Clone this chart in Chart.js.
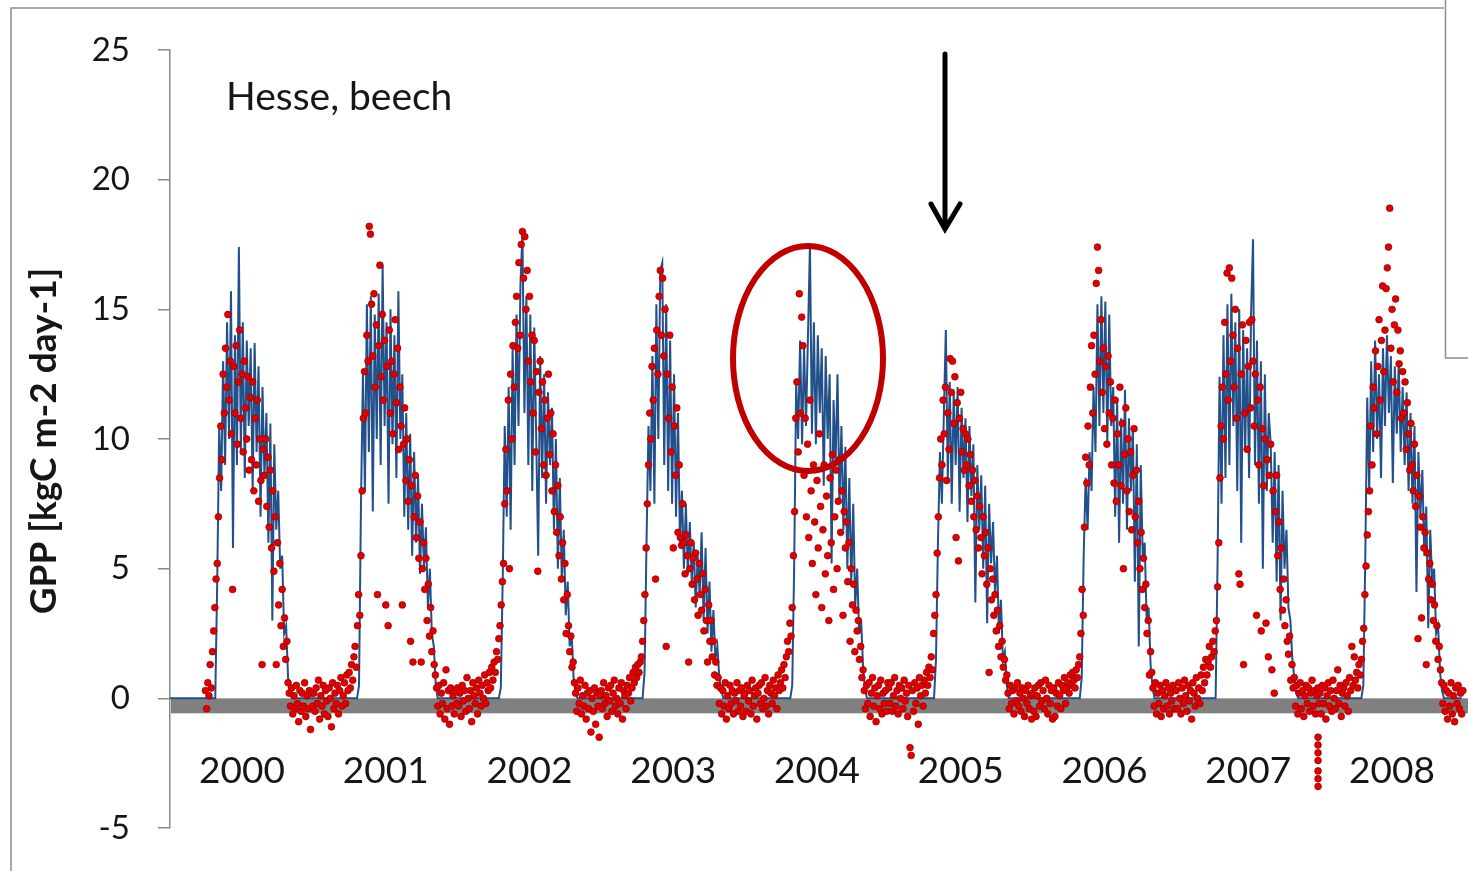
<!DOCTYPE html>
<html><head><meta charset="utf-8">
<script src="https://cdn.jsdelivr.net/npm/chart.js@4"></script>
<style>html,body{margin:0;padding:0;background:#fff;}canvas{display:block;}</style>
</head><body>
<canvas id="c" width="1468" height="871"></canvas>
<script>
// ---------------- DATA ----------------
const years = [2000,2001,2002,2003,2004,2005,2006,2007,2008];
const yearLabels = ['2000','2001','2002','2003','2004','2005','2006','2007','2008'];
const yTickValues = [-5,0,5,10,15,20,25];
const siteLabel = 'Hesse, beech';
const yTitle = 'GPP [kgC m-2 day-1]';

// modelled GPP, one value every 5 days of each year
const model2000 = [0,0,0,0,0,0,0,0,0,0, 0,0,0,0,0,0,0,0,0,0, 0,0,0,0,4.5,10.5,8.0,13.0,9.0,14.5, 10.0,15.7,5.8,14.0,9.0,17.4,9.5,14.5,8.5,13.8, 10.5,13.5,8.0,13.7,9.5,12.8,7.0,12.0,8.5,11.0, 6.0,10.6,3.0,9.8,6.5,8.0,5.0,5.5,2.5,2.8, 0.8,0.2,0,0,0,0,0,0,0,0, 0,0,0];
const model2001 = [0,0,0,0,0,0,0,0,0,0, 0,0,0,0,0,0,0,0,0,0, 0,0,0,0.5,7.5,12.5,8.0,15.2,9.5,15.5, 7.2,14.8,10.0,15.6,9.0,16.7,10.5,14.5,7.5,15.0, 9.8,14.0,8.5,15.7,10.0,12.5,7.0,11.0,6.5,10.2, 5.5,9.5,6.0,8.6,4.8,7.5,5.0,6.6,3.5,5.0, 2.5,2.0,0.5,0,0,0,0,0,0,0, 0,0,0];
const model2002 = [0,0,0,0,0,0,0,0,0,0, 0,0,0,0,0,0,0,0,0,0, 0,0,0.4,4.7,10.5,7.0,12.0,6.5,13.5,9.0, 14.8,10.5,16.0,17.9,11.0,15.5,9.0,14.8,8.0,14.3, 10.0,5.5,13.2,8.5,12.5,7.5,11.8,9.0,11.2,6.5, 10.0,5.0,8.5,4.5,6.5,3.2,4.5,2.0,2.5,0.8, 0.2,0,0,0,0,0,0,0,0,0, 0,0,0];
const model2003 = [0,0,0,0,0,0,0,0,0,0, 0,0,0,0,0,0,0,0,0,0, 0,0,1.0,6.0,10.5,8.0,13.2,7.5,15.2,10.0, 16.5,16.8,9.0,15.2,8.0,13.8,7.5,12.5,7.0,11.0, 6.0,8.0,5.0,7.5,4.8,6.8,4.5,6.0,3.5,5.5, 4.0,6.4,3.0,5.8,2.5,4.5,1.8,3.4,1.5,2.0, 0.8,0.3,0,0,0,0,0,0,0,0, 0,0,0];
const model2004 = [0,0,0,0,0,0,0,0,0,0, 0,0,0,0,0,0,0,0,0,0, 0,0,0,0,0.5,5.2,12.2,10.0,13.8,9.8, 13.5,10.5,14.0,17.5,10.2,14.5,9.8,14.0,11.0,13.5, 8.2,13.2,10.0,12.5,5.2,11.5,9.0,12.5,7.5,10.5, 6.5,9.7,5.0,8.5,4.4,7.5,3.5,5.0,2.5,3.0, 1.2,0.3,0,0,0,0,0,0,0,0, 0,0,0];
const model2005 = [0,0,0,0,0,0,0,0,0,0, 0,0,0,0,0,0,0,0,0,0, 0,0,0,0,1.5,6.0,9.5,7.5,11.0,14.2, 8.5,12.2,7.5,11.8,9.0,12.0,7.2,11.2,8.5,10.8, 6.8,10.5,7.8,9.8,3.7,9.0,6.5,8.6,5.0,8.2, 2.9,7.5,5.2,6.8,4.0,5.5,2.5,3.8,1.5,1.8, 0.5,0,0,0,0,0,0,0,0,0, 0,0,0];
const model2006 = [0,0,0,0,0,0,0,0,0,0, 0,0,0,0,0,0,0,0,0,0, 0,0,0,0,0,0.8,5.5,8.5,6.5,9.5, 8.0,12.0,9.5,15.2,10.5,15.5,11.0,15.3,9.8,14.8, 10.5,12.0,7.0,11.5,6.0,10.8,7.5,11.9,6.5,10.8, 8.0,10.5,4.5,9.8,2.0,9.0,5.5,6.0,3.0,3.5, 1.3,0.4,0,0,0,0,0,0,0,0, 0,0,0];
const model2007 = [0,0,0,0,0,0,0,0,0,0, 0,0,0,0,0,0,0,0,0,0, 0,5.3,12.4,7.5,14.0,8.5,15.2,9.0,15.6,10.5, 14.5,8.0,15.0,6.0,14.2,9.5,13.5,8.5,14.8,17.7, 9.0,13.8,7.5,13.0,5.0,12.5,8.0,11.0,9.8,6.0, 9.5,4.5,9.0,3.0,8.0,5.0,6.5,3.5,3.0,1.5, 0.8,0.2,0,0,0,0,0,0,0,0, 0,0,0];
const model2008 = [0,0,0,0,0,0,0,0,0,0, 0,0,0,0,0,0,0,0,0,0, 0,0,0.5,5.4,11.6,8.0,13.0,9.5,13.8,10.0, 12.5,8.5,13.5,10.5,14.0,11.0,13.2,8.3,12.8,10.2, 13.0,9.5,12.0,9.0,11.8,8.0,11.0,7.5,10.5,4.1, 9.5,7.0,8.8,5.5,7.4,2.7,6.5,4.5,5.0,2.5, 2.8,1.0,0.3,0,0,0,0,0,0,0, 0,0,0];

// observed GPP, one value every 3 days of each year (null = no data)
const obs2000 = [null,null,null,null,null,null,null,null,null,null, null,null,null,null,null,null,null,null,null,null, null,null,null,null,null,null,null,null,null,null,
 0.3,-0.4,0.6,0.1,1.3,0.4,1.8,2.6,3.5,4.6, 5.2,7.0,8.5,10.5,9.2,12.5,11.0,13.5,12.0,14.8, 11.5,13.0,10.2,4.2,12.8,11.0,13.6,9.8,12.2,14.2,
 10.8,12.5,9.5,13.0,11.2,10.0,12.4,8.8,11.6,9.2, 12.2,8.0,10.8,9.0,11.5,7.6,10.0,8.4,1.3,9.6, 8.6,10.0,7.4,9.3,6.6,8.8,5.8,8.0,4.9,7.0,
 1.3,6.0,3.6,5.2,2.8,4.2,2.0,3.1,1.5,2.2, 0.6,0.2,-0.3,0.4,-0.6,0.1,-0.4,0.5,-0.2,-0.9, 0.3,-0.5,0.2,-0.3,0.6,-0.7,0.1,-0.4,0.3,-1.2, 0.2,-0.3];
const obs2001 = [0.2,-0.5,0.4,-0.2,0.7,-0.8,0.1,-0.3,0.5,-0.6, 0.3,-0.1,-0.7,0.4,0.0,-1.1,0.6,-0.4,0.2,-0.2, 0.5,-0.6,0.3,0.8,-0.3,0.1,0.6,-0.2,0.9,0.3,
 1.0,0.4,1.3,0.7,1.6,2.0,1.2,2.8,4.0,3.2, 5.5,8.0,10.8,12.6,11.0,14.0,13.0,18.2,17.9,15.2, 13.2,15.6,12.0,14.4,4.0,13.6,16.7,12.4,14.8,11.5,
 13.8,3.6,12.8,2.8,14.2,11.0,13.0,10.2,12.5,14.6, 11.4,13.5,9.6,12.0,10.5,3.6,9.8,11.2,8.4,10.0, 7.6,9.2,2.2,8.2,1.4,7.0,8.6,6.2,7.8,5.4,
 6.8,1.4,5.0,6.0,4.2,5.4,3.0,4.4,2.4,3.5, 1.8,2.6,1.3,0.9,0.4,-0.3,0.5,-0.6,0.2,-0.2, 0.6,-0.8,1.1,-0.4,0.3,-1.0,0.4,-0.3,0.1,-0.6, 0.3,-0.2];
const obs2002 = [0.4,-0.3,0.2,-0.7,0.5,-0.1,0.3,-0.5,0.8,0.0, -0.4,0.3,-0.9,0.6,0.1,-0.2,0.4,-0.6,0.7,0.2, -0.3,0.5,0.0,0.9,-0.2,0.6,0.3,1.0,0.4,1.2,
 0.7,1.4,1.0,1.8,1.5,2.3,2.8,3.6,4.5,5.2, 7.5,9.6,8.0,11.5,5.0,12.5,10.0,13.6,12.0,14.5, 15.5,13.5,16.8,14.0,17.5,18.0,16.2,17.8,15.0,16.5,
 13.0,15.5,12.2,14.0,11.0,13.8,9.5,12.6,4.9,11.8, 13.0,10.4,12.2,9.0,11.5,8.6,10.8,12.5,9.4,11.0, 8.0,10.2,7.2,9.0,6.4,8.2,5.5,7.0,4.6,6.0,
 3.8,5.2,2.5,4.0,2.8,1.8,2.4,1.2,1.4,0.6, 0.2,-0.5,0.4,-0.2,0.7,-0.6,0.1,-0.3,0.5,-0.8, 0.2,-0.4,0.3,-1.3,0.0,-0.5,0.4,-1.0,0.2,-0.3, -1.5,0.1];
const obs2003 = [0.3,-0.4,0.6,-0.2,0.1,-0.7,0.4,-0.1,0.5,-0.5, 0.2,0.7,-0.3,0.0,-0.6,0.4,-0.2,0.6,-0.8,0.3, 0.1,-0.4,0.5,0.2,0.8,-0.1,0.4,1.0,0.6,1.2,
 0.8,1.3,1.0,1.4,1.6,2.2,3.0,4.0,5.8,7.5, 9.0,11.0,10.0,12.8,11.5,13.5,4.6,14.2,12.5,15.5, 16.5,14.0,16.2,13.2,15.0,2.0,12.5,10.8,14.0,9.5,
 12.0,5.8,10.5,8.6,11.2,6.4,9.0,6.2,5.9,7.5, 6.0,4.8,6.3,5.5,1.4,5.0,6.0,4.4,5.4,3.8, 5.6,4.6,3.2,5.2,4.0,3.4,4.8,2.6,4.2,3.0,
 1.4,3.6,2.2,3.0,1.6,2.2,0.9,1.4,0.5,0.8, -0.2,0.4,-0.6,0.3,-0.3,0.6,-0.8,0.1,-0.4,0.5, -0.2,0.3,-0.6,0.2,-0.1,0.6,-0.5,0.3,-0.3,0.4, -0.7,0.1];
const obs2004 = [0.2,-0.5,0.5,-0.1,0.3,-0.6,0.7,-0.3,0.1,0.4, -0.8,0.2,0.5,-0.2,0.6,-0.4,0.0,0.8,-0.3,0.3, -0.6,0.5,0.2,-0.2,0.7,0.1,0.4,-0.4,0.9,0.3,
 0.6,1.1,0.4,1.3,0.8,1.6,2.2,1.8,2.9,2.4, 3.5,5.5,7.2,10.8,12.2,9.5,15.6,11.0,14.7,13.6, 8.6,10.8,7.0,9.8,6.2,11.5,8.0,5.2,9.0,6.8,
 4.0,8.4,5.8,10.2,7.4,3.5,6.5,9.0,4.8,7.8, 5.5,3.0,8.5,6.0,9.4,4.2,7.0,8.8,5.0,7.6, 9.2,6.4,8.0,3.2,7.2,5.8,6.8,4.5,6.0,2.2,
 5.0,3.6,4.4,1.8,3.4,2.6,3.0,1.5,2.0,0.8, 1.1,0.3,-0.4,0.5,-0.2,0.6,-0.7,0.2,0.8,-0.3, 0.4,-0.9,0.1,0.5,-0.4,0.7,-0.6,0.2,-0.2,0.3, -0.5,0.6];
const obs2005 = [0.4,-0.2,0.6,-0.5,0.1,0.8,-0.3,0.3,-0.6,0.5, 0.0,0.4,-0.4,0.7,-0.1,0.2,-0.7,0.5,-1.9,-2.2, 0.3,-0.5,0.6,-0.2,0.4,-1.0,0.8,0.1,0.5,-0.3,
 0.7,0.2,1.0,0.5,1.2,0.8,1.6,1.1,2.5,3.2, 4.0,5.6,7.0,8.5,10.0,9.0,11.5,10.2,12.0,8.4, 11.0,9.6,13.1,11.8,13.0,10.6,12.4,6.2,11.4,5.3,
 10.8,11.8,9.5,10.4,8.8,10.2,9.0,10.0,8.2,9.4, 7.6,8.8,7.0,8.4,6.5,7.8,5.8,7.4,6.2,4.8, 7.0,5.5,6.4,4.4,5.8,1.0,5.0,3.8,4.6,3.2,
 4.0,2.6,3.4,2.0,2.8,1.6,2.2,1.2,1.5,0.7, 0.9,0.2,-0.4,0.5,-0.2,0.3,-0.6,0.4,-0.1,0.6, -0.3,0.2,-0.5,0.4,0.0,-0.7,0.3,-0.2,0.5,-0.4, 0.1,-0.8];
const obs2006 = [0.2,-0.5,0.4,-0.7,0.1,0.5,-0.3,0.6,-0.1,0.3, -0.4,0.7,0.0,-0.6,0.5,-0.2,0.3,-0.8,0.4,-0.7, 0.2,-0.3,0.6,0.1,-0.4,0.5,0.3,0.8,-0.2,0.4,
 0.6,0.2,0.9,0.5,1.0,0.7,0.4,1.1,0.8,1.3, 1.6,2.5,4.2,3.2,6.6,9.3,8.3,10.5,9.0,12.0, 13.6,11.0,14.0,12.5,16.0,17.4,16.5,13.0,14.6,11.8,
 13.5,10.4,12.8,9.8,13.2,11.0,12.2,9.0,10.8,8.3, 11.5,7.6,10.2,9.0,12.0,8.2,10.6,5.0,9.4,11.2, 8.0,10.0,7.2,9.5,6.5,8.6,10.4,7.0,8.8,6.0,
 7.6,5.0,6.4,4.2,5.4,3.5,4.4,2.5,3.0,0.9, 1.8,1.0,0.4,-0.3,0.6,-0.6,0.2,-0.2,0.5,-0.7, 0.3,-0.4,0.1,0.6,-0.3,0.4,-0.6,0.2,-0.1,0.5, -0.4,0.3];
const obs2007 = [0.3,-0.4,0.6,0.0,-0.6,0.4,-0.2,0.7,0.1,-0.5, 0.5,-0.1,0.3,-0.8,0.6,0.2,-0.3,0.8,0.0,0.4, -0.2,0.9,0.3,1.2,0.6,1.5,0.9,1.4,2.0,1.2,
 1.6,2.2,1.8,2.6,3.0,4.3,6.0,8.5,10.5,12.0, 10.0,14.5,12.5,16.4,11.5,16.6,13.0,16.2,14.0,12.0, 15.0,10.8,13.5,4.8,4.4,12.5,14.4,1.3,11.0,13.8,
 9.6,12.8,14.5,11.2,14.6,13.0,10.5,12.5,3.2,11.5, 9.0,12.0,2.6,10.4,8.2,10.0,2.9,9.2,1.6,8.6, 9.8,1.1,8.0,0.2,7.2,8.6,5.5,6.8,4.2,5.8,
 3.4,4.6,2.8,3.8,2.2,1.7,2.4,0.7,1.3,0.4, 0.8,-0.3,0.5,-0.6,0.2,0.6,-0.4,0.3,-0.7,0.1, 0.5,-0.2,0.4,-0.5,0.2,0.7,-0.3,0.3,-0.6,0.1, 0.4,-0.2];
const obs2008 = [0.2,-0.6,0.5,-0.2,0.4,-0.8,0.1,0.6,-0.3,0.3, -0.5,0.7,0.0,-0.4,0.3,1.1,-0.2,0.5,-0.7,0.2, 0.4,-0.3,0.6,0.1,-0.5,0.8,0.3,2.0,0.5,1.6,
 0.7,1.0,0.4,1.3,0.9,1.5,2.2,2.7,4.0,5.1, 6.3,7.2,8.0,10.5,9.0,12.0,11.2,13.4,10.2,12.8, 14.6,11.5,13.8,15.9,12.6,14.2,15.8,16.6,17.4,18.9,
 13.5,15.0,12.2,14.4,15.4,11.8,14.2,12.9,13.4,10.8, 12.6,11.0,12.2,9.6,11.4,10.2,8.8,10.6,9.0,8.0, 9.8,7.4,8.6,2.3,7.8,6.6,3.1,7.0,5.8,6.4,
 1.3,5.6,4.6,5.2,3.8,4.4,3.0,3.6,2.2,2.8, 1.5,2.0,1.1,0.6,-0.2,0.5,-0.5,0.3,-0.8,0.2, -0.3,0.6,-0.6,0.1,-0.9,0.4,-0.2,0.5,-0.4,0.2, -0.6,0.3];

// a run of observations on one day at the turn of 2007/2008 (days since 1 Jan 2000)
const extraObsDay = [2917,2917,2917,2917,2917,2917,2917];
const extraObsGpp = [-1.5,-1.8,-2.1,-2.4,-2.8,-3.1,-3.4];

// ---------------- BUILD ----------------
const modelByYear = [model2000,model2001,model2002,model2003,model2004,model2005,model2006,model2007,model2008];
const obsByYear = [obs2000,obs2001,obs2002,obs2003,obs2004,obs2005,obs2006,obs2007,obs2008];
const DAYS_PER_YEAR = 365.25;
const MODEL_STEP = 5, OBS_STEP = 3;
const modelPts = [];
modelByYear.forEach((arr,k)=>arr.forEach((v,i)=>modelPts.push({x:k*DAYS_PER_YEAR+i*MODEL_STEP,y:v})));
const obsPts = [];
obsByYear.forEach((arr,k)=>arr.forEach((v,j)=>{ if(v!==null) obsPts.push({x:k*DAYS_PER_YEAR+j*OBS_STEP,y:v}); }));
extraObsDay.forEach((d,i)=>obsPts.push({x:d,y:extraObsGpp[i]}));

const FONT = 'Lato, "Open Sans", sans-serif';

const decor = {
  id:'decor',
  beforeDatasetsDraw(chart){
    const {ctx, chartArea:a, scales:{y}} = chart;
    const y0 = y.getPixelForValue(0);
    ctx.save();
    ctx.fillStyle = '#808080';
    ctx.fillRect(a.left+1, y0, a.right-a.left, 15);
    ctx.restore();
  },
  afterDraw(chart){
    const {ctx, scales:{x,y}} = chart;
    ctx.save();
    // outer frame (partially visible)
    ctx.strokeStyle = '#8c8c8c'; ctx.lineWidth = 1.5;
    ctx.beginPath(); ctx.moveTo(11,871); ctx.lineTo(11,8); ctx.lineTo(1444,8); ctx.stroke();
    // legend box edge
    ctx.beginPath(); ctx.moveTo(1445.5,0); ctx.lineTo(1445.5,358); ctx.lineTo(1468,358); ctx.stroke();

    // year labels
    ctx.fillStyle = '#161616';
    ctx.font = '37px ' + FONT;
    ctx.textAlign = 'center'; ctx.textBaseline = 'alphabetic';
    yearLabels.forEach((lab,k)=>{
      ctx.fillText(lab, x.getPixelForValue(k*DAYS_PER_YEAR+183), 783);
    });
    // site label
    ctx.textAlign = 'left';
    ctx.font = '39px ' + FONT;
    ctx.fillText(siteLabel, 226, 110);
    // y title
    ctx.save();
    ctx.translate(44, 441); ctx.rotate(-Math.PI/2);
    ctx.textAlign = 'center'; ctx.textBaseline = 'middle';
    ctx.font = 'bold 37px ' + FONT;
    ctx.fillText(yTitle, 0, 0);
    ctx.restore();

    // arrow
    ctx.strokeStyle = '#000'; ctx.lineWidth = 5; ctx.lineCap = 'round'; ctx.lineJoin = 'miter';
    ctx.beginPath(); ctx.moveTo(945,54); ctx.lineTo(945,226); ctx.stroke();
    ctx.beginPath(); ctx.moveTo(931,204); ctx.lineTo(945,229); ctx.lineTo(960,204); ctx.stroke();

    // ellipse
    ctx.strokeStyle = '#c00000'; ctx.lineWidth = 6;
    ctx.beginPath(); ctx.ellipse(808, 358.5, 75, 112.5, 0, 0, Math.PI*2); ctx.stroke();
    ctx.restore();
  }
};

new Chart(document.getElementById('c'), {
  type: 'scatter',
  data: { datasets: [
    { label:'observed', data: obsPts, showLine:false, pointRadius:3.4, pointHoverRadius:0,
      pointBackgroundColor:'#e00000', pointBorderColor:'#9a0000', pointBorderWidth:0.7 },
    { label:'model', data: modelPts, showLine:true, borderColor:'#22508a', borderWidth:2,
      pointRadius:0, tension:0, fill:false }
  ]},
  options: {
    responsive:false, animation:false, devicePixelRatio:1,
    events: [],
    layout: { autoPadding:false, padding: { top:50, bottom:43, left:0, right:0 } },
    plugins: { legend:{display:false}, tooltip:{enabled:false}, title:{display:false} },
    scales: {
      x: { type:'linear', min:0, max:3298, display:false },
      y: {
        min:-5, max:25,
        afterFit(s){ s.width = 170; s.paddingTop = 0; s.paddingBottom = 0; },
        afterBuildTicks(s){ s.ticks = yTickValues.map(v=>({value:v})); },
        ticks: { padding:28, color:'#161616', font:{ family:FONT, size:33 } },
        grid: { drawOnChartArea:false, drawTicks:true, tickLength:12, color:'#8a8a8a', lineWidth:1.5 },
        border: { display:true, color:'#8a8a8a', width:1.5 }
      }
    }
  },
  plugins: [decor]
});
</script>
</body></html>
